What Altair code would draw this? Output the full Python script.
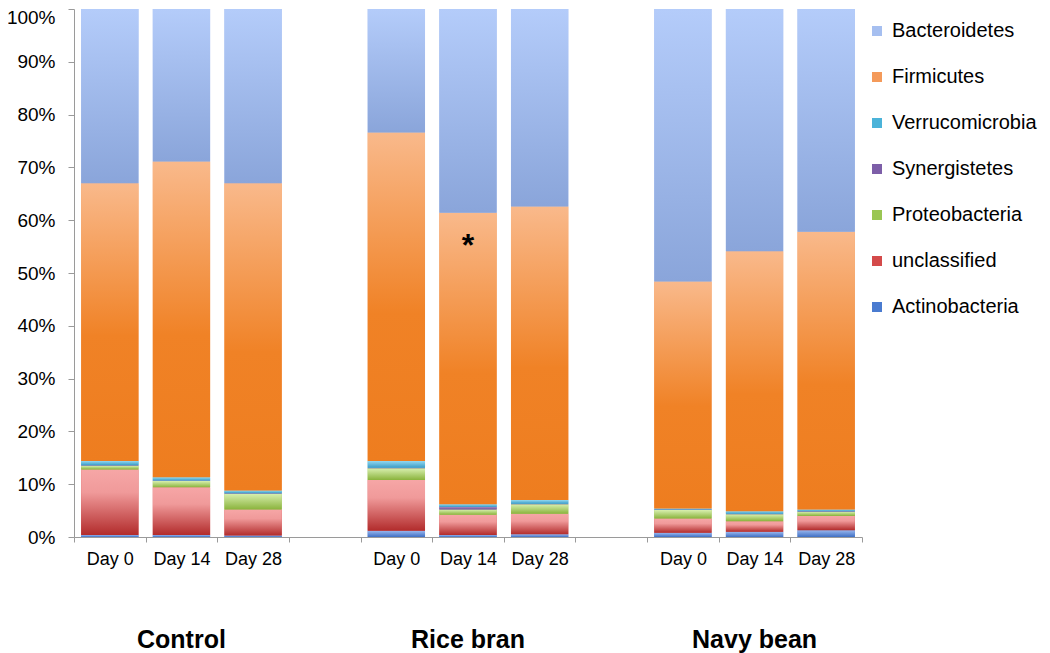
import altair as alt
import pandas as pd

# ---- data ----
groups = ["Control", "Rice bran", "Navy bean"]
days = ["Day 0", "Day 14", "Day 28"]
phyla = ["Bacteroidetes", "Firmicutes", "Verrucomicrobia", "Synergistetes",
         "Proteobacteria", "unclassified", "Actinobacteria"]  # legend order (top→bottom)
stack_order = ["Actinobacteria", "unclassified", "Proteobacteria", "Synergistetes",
               "Verrucomicrobia", "Firmicutes", "Bacteroidetes"]  # bottom→top

# values per bar: Control D0, D14, D28, Rice D0, D14, D28, Navy D0, D14, D28 (%)
actinobacteria  = [0.4, 0.4, 0.3, 1.2, 0.4, 0.5, 0.8, 1.0, 1.3]
unclassified    = [12.4, 9.0, 4.9, 9.6, 3.8, 3.9, 2.7, 2.0, 2.7]
proteobacteria  = [0.7, 1.2, 3.0, 2.2, 1.0, 1.8, 1.6, 1.3, 0.8]
synergistetes   = [0.1, 0.1, 0.1, 0.1, 0.5, 0.1, 0.1, 0.1, 0.1]
verrucomicrobia = [0.8, 0.6, 0.5, 1.3, 0.5, 0.7, 0.2, 0.5, 0.3]
firmicutes      = [52.6, 59.8, 58.2, 62.2, 55.2, 55.6, 43.0, 49.2, 52.6]
bacteroidetes   = [33.0, 28.9, 33.0, 23.4, 38.6, 37.4, 51.6, 45.9, 42.2]

series = {
    "Actinobacteria": actinobacteria, "unclassified": unclassified,
    "Proteobacteria": proteobacteria, "Synergistetes": synergistetes,
    "Verrucomicrobia": verrucomicrobia, "Firmicutes": firmicutes,
    "Bacteroidetes": bacteroidetes,
}

bar_slots = [f"{g}|{d}" for g in groups for d in days]
slot_domain = (bar_slots[0:3] + ["gap1"] + bar_slots[3:6] + ["gap2"] + bar_slots[6:9])

annot_slot = ["Rice bran|Day 14"]
annot_value = [53.2]
annot_text = ["*"]
group_anchor = ["Control|Day 14", "Rice bran|Day 14", "Navy bean|Day 14"]

solid = {
    "Bacteroidetes": "#a6bff0", "Firmicutes": "#f49a5a", "Verrucomicrobia": "#4bb3d9",
    "Synergistetes": "#7d5ea8", "Proteobacteria": "#9ac653", "unclassified": "#d44a4a",
    "Actinobacteria": "#4a7bd0",
}
grad_stops = {
    "Bacteroidetes": [(0, "#b4ccfa"), (1, "#8aa5da")],
    "Firmicutes": [(0, "#f9b98b"), (0.55, "#f08226"), (1, "#ee7d1f")],
    "Verrucomicrobia": [(0, "#93d8f0"), (1, "#3a9cc6")],
    "Synergistetes": [(0, "#a58bc4"), (1, "#6c4d96")],
    "Proteobacteria": [(0, "#d8efae"), (1, "#8ab33c")],
    "unclassified": [(0, "#f6a6a6"), (0.35, "#f09a9a"), (1, "#b22c2c")],
    "Actinobacteria": [(0, "#9ab8ee"), (1, "#3f6fc4")],
}

rows = []
for p in stack_order:
    for s, v in zip(bar_slots, series[p]):
        rows.append({"slot": s, "phylum": p, "value": v, "ord": stack_order.index(p)})
df = pd.DataFrame(rows)

FONT = "Liberation Sans"
W, H = 788, 528


def grad(p):
    return {"gradient": "linear", "x1": 0, "y1": 0, "x2": 0, "y2": 1,
            "stops": [{"offset": o, "color": c} for o, c in grad_stops[p]]}


x_label_expr = ("isString(datum.value) && indexof(datum.value,'|') >= 0 "
                "? split(datum.value,'|')[1] : ''")

x_enc = alt.X("slot:N", scale=alt.Scale(domain=slot_domain, paddingInner=0, paddingOuter=0),
              axis=alt.Axis(title=None, tickBand="extent", labelAngle=0,
                            labelExpr=x_label_expr,
                            labelFontSize=18, labelFont=FONT, labelColor="#000",
                            tickSize=5, labelPadding=8, domainColor="#9a9a9a",
                            tickColor="#9a9a9a"))
y_enc = alt.Y("value:Q", stack="zero", scale=alt.Scale(domain=[0, 100], nice=False),
              axis=alt.Axis(title=None, values=list(range(0, 101, 10)),
                            labelExpr="datum.value + '%'",
                            labelOffset={"condition": {"test": "datum.value === 100", "value": 8},
                                         "value": 0},
                            labelFontSize=19, labelFont=FONT, labelColor="#000", tickSize=6,
                            labelPadding=13, domainColor="#9a9a9a", tickColor="#9a9a9a",
                            grid=False))

legend_layer = alt.Chart(df).mark_bar(width=alt.RelativeBandSize(0.8)).encode(
    x=x_enc, y=y_enc, order=alt.Order("ord:Q"),
    color=alt.Color("phylum:N", sort=phyla,
                    scale=alt.Scale(domain=phyla, range=[solid[p] for p in phyla]),
                    legend=alt.Legend(title=None, orient="none", legendX=793, legendY=12,
                                      labelFontSize=20, labelFont=FONT, labelColor="#000",
                                      symbolType="square", symbolSize=100, symbolStrokeWidth=0,
                                      rowPadding=26, labelOffset=5, labelLimit=400,
                                      padding=0)),
)

cond = {"condition": [{"test": f"datum.phylum === '{p}'", "value": grad(p)} for p in stack_order[:-1]],
        "value": grad(stack_order[-1])}
grad_layer = alt.Chart(df).mark_bar(width=alt.RelativeBandSize(0.8)).encode(
    x=x_enc, y=y_enc, order=alt.Order("ord:Q"), color=cond,
)

annot = alt.Chart(pd.DataFrame({"slot": annot_slot, "v": annot_value, "t": annot_text})).mark_text(
    font=FONT, fontSize=32, fontWeight="bold", color="#000", baseline="alphabetic"
).encode(x=alt.X("slot:N"), y=alt.Y("v:Q"), text="t:N")

group_text = alt.Chart(pd.DataFrame({"slot": group_anchor, "g": groups})).mark_text(
    font=FONT, fontSize=25, fontWeight="bold", color="#000", baseline="middle"
).encode(x=alt.X("slot:N"), y=alt.value(631), text="g:N")

chart = alt.layer(legend_layer, grad_layer, annot, group_text).properties(
    width=W, height=H,
    autosize=alt.AutoSizeParams(type="none"),
    padding={"left": 66, "top": 1, "right": 180, "bottom": 140},
).configure(font=FONT).configure_view(stroke=None)

chart.save("out.html", embed_options={"renderer": "svg", "actions": False})
